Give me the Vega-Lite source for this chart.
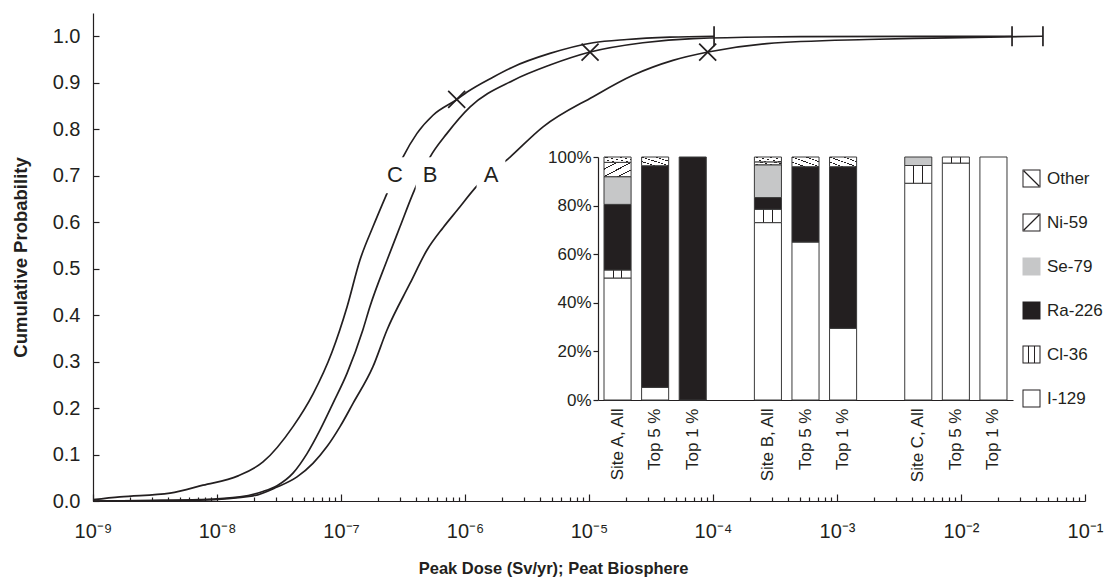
{
  "$schema": "https://vega.github.io/schema/vega-lite/v6.json",
  "width": 992,
  "height": 488,
  "autosize": {"type": "none"},
  "padding": {"left": 93, "top": 13, "right": 22, "bottom": 83},
  "config": {
    "font": "Liberation Sans",
    "view": {"stroke": null},
    "axis": {"grid": false, "domainColor": "#231f20", "tickColor": "#231f20", "labelColor": "#231f20", "titleColor": "#231f20", "domainWidth": 1.2, "tickWidth": 1.2}
  },
  "datasets": {
    "curves": [
      {"site": "C", "dose": 1.0e-9, "p": 0.003},
      {"site": "C", "dose": 1.65e-9, "p": 0.009},
      {"site": "C", "dose": 4.18e-9, "p": 0.017},
      {"site": "C", "dose": 7.71e-9, "p": 0.034},
      {"site": "C", "dose": 1.48e-8, "p": 0.054},
      {"site": "C", "dose": 2.35e-8, "p": 0.084},
      {"site": "C", "dose": 4.10e-8, "p": 0.16},
      {"site": "C", "dose": 5.94e-8, "p": 0.23},
      {"site": "C", "dose": 8.45e-8, "p": 0.32},
      {"site": "C", "dose": 1.12e-7, "p": 0.418},
      {"site": "C", "dose": 1.42e-7, "p": 0.518},
      {"site": "C", "dose": 1.81e-7, "p": 0.59},
      {"site": "C", "dose": 2.35e-7, "p": 0.662},
      {"site": "C", "dose": 3.16e-7, "p": 0.74},
      {"site": "C", "dose": 4.10e-7, "p": 0.791},
      {"site": "C", "dose": 5.52e-7, "p": 0.83},
      {"site": "C", "dose": 8.61e-7, "p": 0.864},
      {"site": "C", "dose": 1.04e-6, "p": 0.88},
      {"site": "C", "dose": 1.68e-6, "p": 0.912},
      {"site": "C", "dose": 2.44e-6, "p": 0.934},
      {"site": "C", "dose": 4.84e-6, "p": 0.963},
      {"site": "C", "dose": 1.08e-5, "p": 0.986},
      {"site": "C", "dose": 2.02e-5, "p": 0.993},
      {"site": "C", "dose": 4.50e-5, "p": 0.998},
      {"site": "C", "dose": 1.02e-4, "p": 1.0},
      {"site": "B", "dose": 1.0e-9, "p": 0.0},
      {"site": "B", "dose": 2.88e-9, "p": 0.001},
      {"site": "B", "dose": 7.29e-9, "p": 0.003},
      {"site": "B", "dose": 1.53e-8, "p": 0.009},
      {"site": "B", "dose": 2.31e-8, "p": 0.02},
      {"site": "B", "dose": 3.05e-8, "p": 0.033},
      {"site": "B", "dose": 4.10e-8, "p": 0.06},
      {"site": "B", "dose": 5.32e-8, "p": 0.102},
      {"site": "B", "dose": 6.78e-8, "p": 0.153},
      {"site": "B", "dose": 8.61e-8, "p": 0.21},
      {"site": "B", "dose": 1.12e-7, "p": 0.275},
      {"site": "B", "dose": 1.50e-7, "p": 0.368},
      {"site": "B", "dose": 1.71e-7, "p": 0.418},
      {"site": "B", "dose": 2.35e-7, "p": 0.518},
      {"site": "B", "dose": 2.99e-7, "p": 0.59},
      {"site": "B", "dose": 3.81e-7, "p": 0.662},
      {"site": "B", "dose": 5.22e-7, "p": 0.74},
      {"site": "B", "dose": 7.16e-7, "p": 0.791},
      {"site": "B", "dose": 1.10e-6, "p": 0.848},
      {"site": "B", "dose": 2.44e-6, "p": 0.905},
      {"site": "B", "dose": 4.84e-6, "p": 0.938},
      {"site": "B", "dose": 1.02e-5, "p": 0.966},
      {"site": "B", "dose": 2.72e-5, "p": 0.986},
      {"site": "B", "dose": 6.90e-5, "p": 0.995},
      {"site": "B", "dose": 5.04e-4, "p": 0.999},
      {"site": "B", "dose": 2.58e-2, "p": 1.0},
      {"site": "A", "dose": 1.0e-9, "p": 0.0},
      {"site": "A", "dose": 2.88e-9, "p": 0.001},
      {"site": "A", "dose": 7.29e-9, "p": 0.002},
      {"site": "A", "dose": 1.95e-8, "p": 0.011},
      {"site": "A", "dose": 3.05e-8, "p": 0.03},
      {"site": "A", "dose": 4.42e-8, "p": 0.052},
      {"site": "A", "dose": 5.94e-8, "p": 0.081},
      {"site": "A", "dose": 7.71e-8, "p": 0.117},
      {"site": "A", "dose": 9.82e-8, "p": 0.16},
      {"site": "A", "dose": 1.25e-7, "p": 0.21},
      {"site": "A", "dose": 1.81e-7, "p": 0.289},
      {"site": "A", "dose": 2.35e-7, "p": 0.368},
      {"site": "A", "dose": 3.60e-7, "p": 0.468},
      {"site": "A", "dose": 4.94e-7, "p": 0.54},
      {"site": "A", "dose": 6.65e-7, "p": 0.588},
      {"site": "A", "dose": 8.61e-7, "p": 0.625},
      {"site": "A", "dose": 1.25e-6, "p": 0.678},
      {"site": "A", "dose": 2.31e-6, "p": 0.74},
      {"site": "A", "dose": 4.26e-6, "p": 0.805},
      {"site": "A", "dose": 1.08e-5, "p": 0.87},
      {"site": "A", "dose": 2.26e-5, "p": 0.916},
      {"site": "A", "dose": 4.75e-5, "p": 0.948},
      {"site": "A", "dose": 9.12e-5, "p": 0.966},
      {"site": "A", "dose": 2.72e-4, "p": 0.984},
      {"site": "A", "dose": 1.75e-3, "p": 0.993},
      {"site": "A", "dose": 5.94e-3, "p": 0.996},
      {"site": "A", "dose": 4.58e-2, "p": 1.0}
    ],
    "crosses": [
      {"site": "C", "dose": 8.57e-7, "p": 0.864},
      {"site": "B", "dose": 1.02e-5, "p": 0.966},
      {"site": "A", "dose": 9.06e-5, "p": 0.966}
    ],
    "maxima": [
      {"site": "C", "dose": 1.02e-4, "p": 1.0},
      {"site": "B", "dose": 2.58e-2, "p": 1.0},
      {"site": "A", "dose": 4.58e-2, "p": 1.0}
    ],
    "names": [
      {"site": "C", "dose": 2.72e-7, "p": 0.701},
      {"site": "B", "dose": 5.23e-7, "p": 0.701},
      {"site": "A", "dose": 1.62e-6, "p": 0.701}
    ],
    "inset": [
      {"bar": "A|Site A, All", "nuclide": "I-129", "pct": 50.2},
      {"bar": "A|Site A, All", "nuclide": "Cl-36", "pct": 3.3},
      {"bar": "A|Site A, All", "nuclide": "Ra-226", "pct": 27.0},
      {"bar": "A|Site A, All", "nuclide": "Se-79", "pct": 11.4},
      {"bar": "A|Site A, All", "nuclide": "Ni-59", "pct": 5.9},
      {"bar": "A|Site A, All", "nuclide": "Other", "pct": 2.2},
      {"bar": "A|Top 5 %", "nuclide": "I-129", "pct": 5.2},
      {"bar": "A|Top 5 %", "nuclide": "Ra-226", "pct": 91.2},
      {"bar": "A|Top 5 %", "nuclide": "Other", "pct": 3.6},
      {"bar": "A|Top 1 %", "nuclide": "Ra-226", "pct": 100},
      {"bar": "B|Site B, All", "nuclide": "I-129", "pct": 73.0},
      {"bar": "B|Site B, All", "nuclide": "Cl-36", "pct": 5.5},
      {"bar": "B|Site B, All", "nuclide": "Ra-226", "pct": 4.8},
      {"bar": "B|Site B, All", "nuclide": "Se-79", "pct": 13.5},
      {"bar": "B|Site B, All", "nuclide": "Ni-59", "pct": 1.2},
      {"bar": "B|Site B, All", "nuclide": "Other", "pct": 2.0},
      {"bar": "B|Top 5 %", "nuclide": "I-129", "pct": 65.0},
      {"bar": "B|Top 5 %", "nuclide": "Ra-226", "pct": 31.0},
      {"bar": "B|Top 5 %", "nuclide": "Other", "pct": 4.0},
      {"bar": "B|Top 1 %", "nuclide": "I-129", "pct": 29.5},
      {"bar": "B|Top 1 %", "nuclide": "Ra-226", "pct": 66.5},
      {"bar": "B|Top 1 %", "nuclide": "Other", "pct": 4.0},
      {"bar": "C|Site C, All", "nuclide": "I-129", "pct": 89.2},
      {"bar": "C|Site C, All", "nuclide": "Cl-36", "pct": 7.3},
      {"bar": "C|Site C, All", "nuclide": "Se-79", "pct": 3.5},
      {"bar": "C|Top 5 %", "nuclide": "I-129", "pct": 97.5},
      {"bar": "C|Top 5 %", "nuclide": "Cl-36", "pct": 2.5},
      {"bar": "C|Top 1 %", "nuclide": "I-129", "pct": 100}
    ]
  },
  "layer": [
    {
      "data": {"name": "curves"},
      "mark": {"type": "line", "color": "#231f20", "strokeWidth": 1.7, "interpolate": "monotone"},
      "encoding": {
        "x": {
          "field": "dose", "type": "quantitative",
          "scale": {"type": "log", "domain": [1e-9, 0.1], "nice": false},
          "axis": {
            "values": [1e-9, 1e-8, 1e-7, 1e-6, 1e-5, 1e-4, 1e-3, 1e-2, 1e-1],
            "labelExpr": "'10⁻' + ['⁰','¹','²','³','⁴','⁵','⁶','⁷','⁸','⁹'][-round(log(datum.value)/LN10)]",
            "tickSize": -7, "labelPadding": 27, "labelFontSize": 20, "labelOverlap": false, "labelFlush": false,
            "title": "Peak Dose (Sv/yr); Peat Biosphere",
            "titleFontSize": 16.5, "titleFontWeight": "bold", "titleX": 460, "titleY": 67, "titleBaseline": "middle"
          }
        },
        "y": {
          "field": "p", "type": "quantitative",
          "scale": {"domain": [0, 1.05], "nice": false, "zero": false},
          "axis": {
            "values": [0, 0.1, 0.2, 0.3, 0.4, 0.5, 0.6, 0.7, 0.8, 0.9, 1.0],
            "format": ".1f", "tickSize": -6, "labelPadding": 19, "labelFontSize": 20,
            "title": "Cumulative Probability",
            "titleFontSize": 18.5, "titleFontWeight": "bold", "titleX": -73, "titleY": 244, "titleBaseline": "middle", "titleAngle": -90
          }
        },
        "detail": {"field": "site", "type": "nominal"}
      }
    },
    {
      "data": {"name": "crosses"},
      "mark": {"type": "point", "shape": "M-1,-1L1,1M1,-1L-1,1", "filled": false, "stroke": "#231f20", "strokeWidth": 1.7, "size": 289, "opacity": 1},
      "encoding": {
        "x": {
          "field": "dose", "type": "quantitative",
          "scale": {"type": "log", "domain": [1e-9, 0.1], "nice": false},
          "axis": {
            "values": [2e-9, 3e-9, 4e-9, 5e-9, 6e-9, 7e-9, 8e-9, 9e-9,
                       2e-8, 3e-8, 4e-8, 5e-8, 6e-8, 7e-8, 8e-8, 9e-8,
                       2e-7, 3e-7, 4e-7, 5e-7, 6e-7, 7e-7, 8e-7, 9e-7,
                       2e-6, 3e-6, 4e-6, 5e-6, 6e-6, 7e-6, 8e-6, 9e-6,
                       2e-5, 3e-5, 4e-5, 5e-5, 6e-5, 7e-5, 8e-5, 9e-5,
                       2e-4, 3e-4, 4e-4, 5e-4, 6e-4, 7e-4, 8e-4, 9e-4,
                       2e-3, 3e-3, 4e-3, 5e-3, 6e-3, 7e-3, 8e-3, 9e-3,
                       2e-2, 3e-2, 4e-2, 5e-2, 6e-2, 7e-2, 8e-2, 9e-2],
            "orient": "bottom", "tickSize": -4, "labels": false, "domain": false, "title": null
          }
        },
        "y": {"field": "p", "type": "quantitative", "scale": {"domain": [0, 1.05], "nice": false, "zero": false}, "axis": null}
      }
    },
    {
      "data": {"name": "maxima"},
      "mark": {"type": "point", "shape": "M0,-1L0,1", "filled": false, "stroke": "#231f20", "strokeWidth": 1.7, "size": 400, "opacity": 1},
      "encoding": {
        "x": {"field": "dose", "type": "quantitative", "scale": {"type": "log", "domain": [1e-9, 0.1], "nice": false}, "axis": null},
        "y": {"field": "p", "type": "quantitative", "scale": {"domain": [0, 1.05], "nice": false, "zero": false}, "axis": null}
      }
    },
    {
      "data": {"name": "names"},
      "mark": {"type": "point", "shape": "M-0.8,-1L0.8,-1L0.8,1L-0.8,1Z", "filled": true, "fill": "white", "strokeWidth": 0, "size": 1296, "opacity": 1},
      "encoding": {
        "x": {"field": "dose", "type": "quantitative", "scale": {"type": "log", "domain": [1e-9, 0.1], "nice": false}, "axis": null},
        "y": {"field": "p", "type": "quantitative", "scale": {"domain": [0, 1.05], "nice": false, "zero": false}, "axis": null}
      }
    },
    {
      "data": {"name": "names"},
      "mark": {"type": "text", "fontSize": 22, "color": "#231f20", "align": "center", "baseline": "middle"},
      "encoding": {
        "x": {"field": "dose", "type": "quantitative", "scale": {"type": "log", "domain": [1e-9, 0.1], "nice": false}, "axis": null},
        "y": {"field": "p", "type": "quantitative", "scale": {"domain": [0, 1.05], "nice": false, "zero": false}, "axis": null},
        "text": {"field": "site", "type": "nominal"}
      }
    },
    {
      "data": {"name": "inset"},
      "transform": [
        {"calculate": "indexof(['I-129', 'Cl-36', 'Ra-226', 'Se-79', 'Ni-59', 'Other'], datum.nuclide)", "as": "stackRank"}
      ],
      "encoding": {
        "x": {
          "field": "bar", "type": "nominal", "sort": null,
          "scale": {
            "domain": ["A|Site A, All", "A|Top 5 %", "A|Top 1 %", "g1|", "B|Site B, All", "B|Top 5 %", "B|Top 1 %", "g2|", "C|Site C, All", "C|Top 5 %", "C|Top 1 %"],
            "range": [505, 920], "paddingInner": 0.28, "paddingOuter": 0.16
          },
          "axis": {
            "orient": "bottom", "offset": -101, "title": null, "ticks": false,
            "labelAngle": -90, "labelFontSize": 17, "labelPadding": 8,
            "labelExpr": "split(datum.value, '|')[1]"
          }
        },
        "y": {
          "field": "pct", "type": "quantitative", "stack": "zero",
          "scale": {"domain": [0, 100], "range": [387, 144], "nice": false},
          "axis": {
            "orient": "left", "offset": -505, "title": null,
            "values": [0, 20, 40, 60, 80, 100], "labelExpr": "datum.value + '%'",
            "tickSize": 5, "labelPadding": 2, "labelFontSize": 17
          }
        },
        "order": {"field": "stackRank", "type": "quantitative", "sort": "ascending"}
      },
      "layer": [
        {
          "mark": {"type": "bar", "stroke": "#3a3a3a", "strokeWidth": 1, "opacity": 1},
          "encoding": {
            "detail": {"field": "nuclide", "type": "nominal"},
            "fill": {
              "condition": [
                {"test": "datum.nuclide === 'Other'", "value": {"gradient": "linear", "x1": 0, "y1": 1, "x2": 1, "y2": 0, "stops": [
                  {"offset": 0, "color": "white"}, {"offset": 0.22, "color": "white"},
                  {"offset": 0.22, "color": "#231f20"}, {"offset": 0.26, "color": "#231f20"},
                  {"offset": 0.26, "color": "white"}, {"offset": 0.48, "color": "white"},
                  {"offset": 0.48, "color": "#231f20"}, {"offset": 0.52, "color": "#231f20"},
                  {"offset": 0.52, "color": "white"}, {"offset": 0.74, "color": "white"},
                  {"offset": 0.74, "color": "#231f20"}, {"offset": 0.78, "color": "#231f20"},
                  {"offset": 0.78, "color": "white"}, {"offset": 1, "color": "white"}]}},
                {"test": "datum.nuclide === 'Ni-59'", "value": {"gradient": "linear", "x1": 0, "y1": 0, "x2": 1, "y2": 1, "stops": [
                  {"offset": 0, "color": "white"}, {"offset": 0.22, "color": "white"},
                  {"offset": 0.22, "color": "#231f20"}, {"offset": 0.26, "color": "#231f20"},
                  {"offset": 0.26, "color": "white"}, {"offset": 0.48, "color": "white"},
                  {"offset": 0.48, "color": "#231f20"}, {"offset": 0.52, "color": "#231f20"},
                  {"offset": 0.52, "color": "white"}, {"offset": 0.74, "color": "white"},
                  {"offset": 0.74, "color": "#231f20"}, {"offset": 0.78, "color": "#231f20"},
                  {"offset": 0.78, "color": "white"}, {"offset": 1, "color": "white"}]}},
                {"test": "datum.nuclide === 'Cl-36'", "value": {"gradient": "linear", "x1": 0, "y1": 0, "x2": 1, "y2": 0, "stops": [
                  {"offset": 0, "color": "white"}, {"offset": 0.32, "color": "white"},
                  {"offset": 0.32, "color": "#231f20"}, {"offset": 0.36, "color": "#231f20"},
                  {"offset": 0.36, "color": "white"}, {"offset": 0.64, "color": "white"},
                  {"offset": 0.64, "color": "#231f20"}, {"offset": 0.68, "color": "#231f20"},
                  {"offset": 0.68, "color": "white"}, {"offset": 1, "color": "white"}]}},
                {"test": "datum.nuclide === 'Se-79'", "value": "#c6c7c8"},
                {"test": "datum.nuclide === 'Ra-226'", "value": "#231f20"}
              ],
              "value": "white"
            }
          }
        },
        {
          "mark": {"type": "point", "filled": true, "opacity": 0, "size": 1, "stroke": "#231f20", "strokeWidth": 1},
          "encoding": {
            "fill": {
              "field": "nuclide", "type": "nominal",
              "scale": {
                "domain": ["Other", "Ni-59", "Se-79", "Ra-226", "Cl-36", "I-129"],
                "range": ["#231f20", "#231f20", "#c6c7c8", "#231f20", "#231f20", "#231f20"]
              },
              "legend": {
                "orient": "none", "legendX": 929, "legendY": 156, "title": null, "padding": 0,
                "symbolSize": 324, "symbolStrokeWidth": 1, "symbolStrokeColor": "#231f20", "symbolOpacity": 1,
                "labelFontSize": 17, "labelColor": "#231f20", "labelOffset": 6, "rowPadding": 21
              }
            },
            "shape": {
              "field": "nuclide", "type": "nominal",
              "scale": {
                "domain": ["Other", "Ni-59", "Se-79", "Ra-226", "Cl-36", "I-129"],
                "range": [
                  "M-1,-1L1,-1L1,1L-1,1Z M-0.89,-0.89L-0.89,0.89L0.89,0.89L0.89,-0.89Z M-0.89,-0.79L-0.79,-0.89L0.89,0.79L0.79,0.89Z",
                  "M-1,-1L1,-1L1,1L-1,1Z M-0.89,-0.89L-0.89,0.89L0.89,0.89L0.89,-0.89Z M-0.89,0.79L-0.79,0.89L0.89,-0.79L0.79,-0.89Z",
                  "M-1,-1L1,-1L1,1L-1,1Z",
                  "M-1,-1L1,-1L1,1L-1,1Z",
                  "M-1,-1L1,-1L1,1L-1,1Z M-0.89,-0.89L-0.89,0.89L0.89,0.89L0.89,-0.89Z M-0.39,-0.89L-0.28,-0.89L-0.28,0.89L-0.39,0.89Z M0.28,-0.89L0.39,-0.89L0.39,0.89L0.28,0.89Z",
                  "M-1,-1L1,-1L1,1L-1,1Z M-0.89,-0.89L-0.89,0.89L0.89,0.89L0.89,-0.89Z"
                ]
              },
              "legend": {
                "orient": "none", "legendX": 929, "legendY": 156, "title": null, "padding": 0,
                "symbolSize": 324, "symbolStrokeWidth": 1, "symbolStrokeColor": "#231f20", "symbolOpacity": 1,
                "labelFontSize": 17, "labelColor": "#231f20", "labelOffset": 6, "rowPadding": 21
              }
            }
          }
        }
      ]
    }
  ],
  "resolve": {
    "scale": {"x": "independent", "y": "independent"},
    "axis": {"x": "independent", "y": "independent"}
  }
}
